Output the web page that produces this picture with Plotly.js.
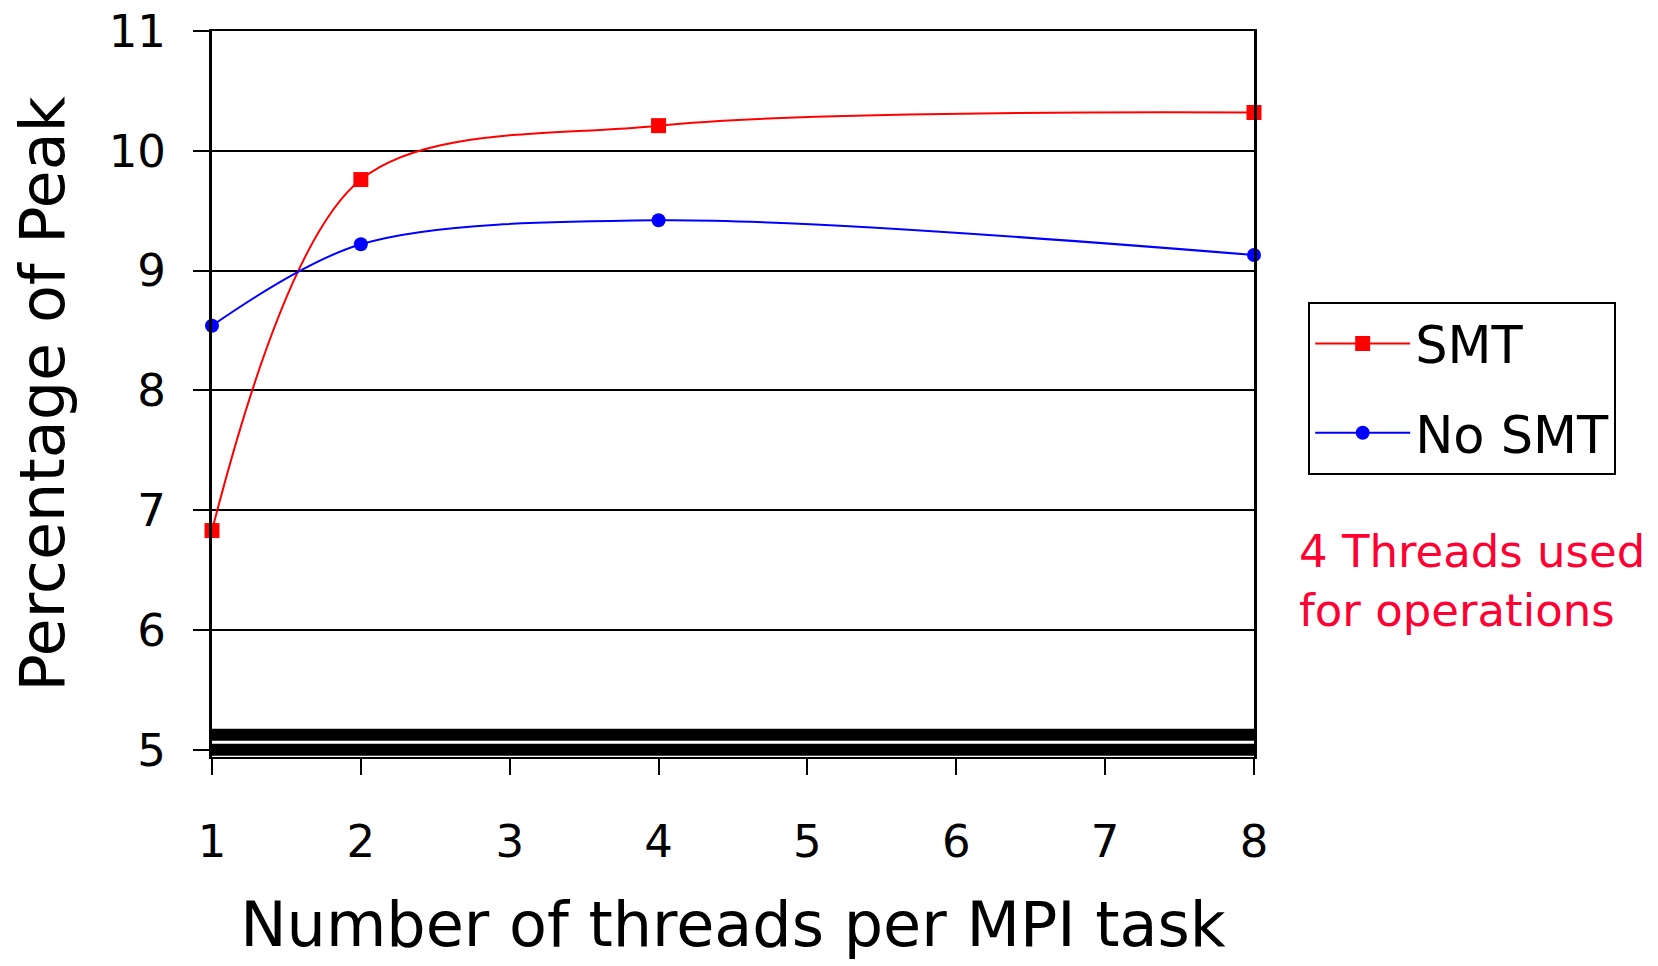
<!DOCTYPE html>
<html>
<head>
<meta charset="utf-8">
<script src="https://cdn.plot.ly/plotly-3.0.1.min.js"></script>
<style>html,body{margin:0;padding:0;background:#fff;}#chart{width:1658px;height:966px;}</style>
</head>
<body>
<div id="chart"></div>
<script>
// Data
const threads = [1, 2, 4, 8];
const smtValues = [6.83, 9.76, 10.21, 10.32];
const noSmtValues = [8.54, 9.22, 9.42, 9.13];
const xTickValues = [1, 2, 3, 4, 5, 6, 7, 8];
const yTickValues = [5, 6, 7, 8, 9, 10, 11];
const seriesNames = ['SMT', 'No SMT'];
const baseBands = [5.0, 5.125];
const noteText = '4 Threads used<br>for operations';

const FONT = 'DejaVu Sans, Verdana, sans-serif';

const traces = [
  {
    x: threads, y: smtValues, name: seriesNames[0], type: 'scatter', mode: 'lines+markers',
    line: {color: '#ff0000', width: 2, shape: 'spline', smoothing: 0.9},
    marker: {symbol: 'square', size: 15, color: '#ff0000'},
    legendgroup: 'a', cliponaxis: false
  },
  {
    x: threads, y: noSmtValues, name: seriesNames[1], type: 'scatter', mode: 'lines+markers',
    line: {color: '#0000ff', width: 2, shape: 'spline', smoothing: 0.9},
    marker: {symbol: 'circle', size: 14, color: '#0000ff'},
    legendgroup: 'b', cliponaxis: false
  }
];

const shapes = baseBands.map(v => ({
  type: 'line', xref: 'paper', yref: 'y', x0: 0, x1: 1.002, y0: v, y1: v,
  line: {color: '#000', width: 12}, layer: 'above'
}));

const layout = {
  width: 1658, height: 966,
  paper_bgcolor: '#fff', plot_bgcolor: '#fff',
  margin: {l: 212, r: 404, t: 31, b: 209},
  font: {family: FONT, color: '#000'},
  showlegend: true,
  legend: {
    x: 1.052, y: 0.627, xanchor: 'left', yanchor: 'top',
    bordercolor: '#000', borderwidth: 2, bgcolor: '#fff',
    font: {family: FONT, size: 51, color: '#000'},
    tracegroupgap: 20, itemwidth: 95
  },
  xaxis: {
    range: [1, 8], tickvals: xTickValues, ticktext: xTickValues.map(String),
    showgrid: false, zeroline: false,
    showline: true, mirror: true, linecolor: '#000', linewidth: 2,
    ticks: 'outside', ticklen: 16, tickwidth: 2, tickcolor: '#000',
    tickfont: {family: FONT, size: 45, color: '#000'},
    ticklabelstandoff: 28,
    title: {text: 'Number of threads per MPI task', font: {family: FONT, size: 62, color: '#000'}, standoff: 36}
  },
  yaxis: {
    range: [4.94, 11], tickvals: yTickValues, ticktext: yTickValues.map(String),
    showgrid: true, gridcolor: '#000', gridwidth: 2, zeroline: false,
    showline: true, mirror: true, linecolor: '#000', linewidth: 3,
    ticks: 'outside', ticklen: 16, tickwidth: 2, tickcolor: '#000',
    tickfont: {family: FONT, size: 45, color: '#000'},
    ticklabelstandoff: 18,
    title: {text: 'Percentage of Peak', font: {family: FONT, size: 62, color: '#000'}, standoff: 25}
  },
  shapes: shapes,
  annotations: [{
    xref: 'paper', yref: 'paper', x: 1.041, y: 0.243, xanchor: 'left', yanchor: 'middle',
    align: 'left', showarrow: false, text: noteText,
    font: {family: FONT, size: 45, color: '#ff0033'}
  }]
};

Plotly.newPlot('chart', traces, layout, {displayModeBar: false, staticPlot: true});
</script>
</body>
</html>
